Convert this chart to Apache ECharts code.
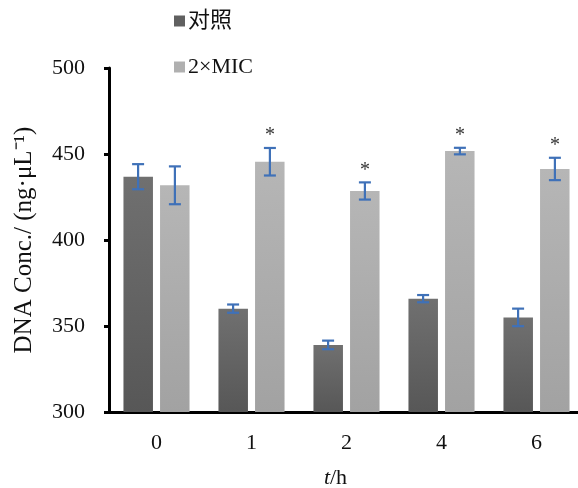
<!DOCTYPE html>
<html>
<head>
<meta charset="utf-8">
<style>html,body{margin:0;padding:0;background:#fff;}#c{width:578px;height:488px;}</style>
<script src="https://cdn.jsdelivr.net/npm/echarts@6/dist/echarts.min.js"></script>
</head>
<body>
<div id="c"></div>
<script>
var categories = ['0', '1', '2', '4', '6'];
var controlValues = [436.8, 360.1, 339.0, 365.9, 355.0];
var controlErrors = [7.3, 2.4, 2.5, 2.1, 5.1];
var micValues = [431.8, 445.5, 428.5, 451.7, 441.3];
var micErrors = [11.0, 8.0, 5.0, 1.9, 6.5];
var micSignificant = ['', '*', '*', '*', '*'];
var seriesNames = ['对照', '2×MIC'];
var yTicks = [300, 350, 400, 450, 500];

var chart = echarts.init(document.getElementById('c'));
var serif = 'Liberation Serif, Times New Roman, Noto Sans CJK SC, serif';
var BAR_W = 29.5, OFFSET = 18.4;

function errData(vals, errs, marks) {
  return vals.map(function (v, i) { return [i, v, errs[i], marks ? marks[i] : '']; });
}
function errRender(sign) {
  return function (params, api) {
    var i = api.value(0), v = api.value(1), e = api.value(2), mark = api.value(3);
    var c = api.coord([i, v]);
    var x = c[0] + sign * OFFSET;
    var yt = api.coord([i, v + e])[1];
    var yb = api.coord([i, v - e])[1];
    var st = { stroke: '#3f71b8', lineWidth: 2.2 };
    var children = [
      { type: 'line', shape: { x1: x, y1: yt, x2: x, y2: yb }, style: st },
      { type: 'line', shape: { x1: x - 6, y1: yt, x2: x + 6, y2: yt }, style: st },
      { type: 'line', shape: { x1: x - 6, y1: yb, x2: x + 6, y2: yb }, style: st }
    ];
    if (mark && mark !== '' && mark !== '-') {
      children.push({ type: 'text', style: { x: x, y: yt - 2, text: String(mark), textAlign: 'center', textVerticalAlign: 'bottom', font: '20px ' + serif, fill: '#333' } });
    }
    return { type: 'group', children: children };
  };
}

var darkGrad = new echarts.graphic.LinearGradient(0, 0, 0, 1, [{ offset: 0, color: '#707070' }, { offset: 1, color: '#575757' }]);
var lightGrad = new echarts.graphic.LinearGradient(0, 0, 0, 1, [{ offset: 0, color: '#b6b6b6' }, { offset: 1, color: '#a2a2a2' }]);

chart.setOption({
  animation: false,
  backgroundColor: '#fff',
  legend: {
    orient: 'vertical', left: 169, top: 5, itemGap: 24,
    itemWidth: 11, itemHeight: 11, icon: 'rect',
    textStyle: { fontFamily: serif, fontSize: 22, color: '#111', padding: [0, 0, 0, -2] },
    data: [
      { name: seriesNames[0], itemStyle: { color: '#606060' } },
      { name: seriesNames[1], itemStyle: { color: '#b0b0b0' } }
    ]
  },
  grid: { left: 109, top: 68, width: 475, height: 344, containLabel: false, outerBoundsMode: 'none' },
  xAxis: {
    type: 'category', data: categories,
    name: '{i|t}/h', nameLocation: 'middle', nameGap: 55,
    nameTextStyle: { fontFamily: serif, fontSize: 22, color: '#111', padding: [0, 22, 0, 0], rich: { i: { fontFamily: serif, fontSize: 22, fontStyle: 'italic', color: '#111' } } },
    axisLine: { lineStyle: { color: '#000', width: 3 } },
    axisTick: { length: 5, lineStyle: { color: '#000', width: 3 } },
    axisLabel: { margin: 20, fontFamily: serif, fontSize: 22, color: '#111' }
  },
  yAxis: {
    type: 'value', min: yTicks[0], max: yTicks[yTicks.length - 1], interval: 50,
    name: 'DNA Conc./ (ng·μL⁻¹)', nameLocation: 'middle', nameGap: 72,
    nameTextStyle: { fontFamily: serif, fontSize: 25, color: '#111' },
    axisLine: { show: true, lineStyle: { color: '#000', width: 3 } },
    axisTick: { show: true, length: 5, lineStyle: { color: '#000', width: 3 } },
    splitLine: { show: false },
    axisLabel: { margin: 24, fontFamily: serif, fontSize: 22, color: '#111' }
  },
  series: [
    { name: seriesNames[0], type: 'bar', data: controlValues, barWidth: BAR_W, barGap: '24%', itemStyle: { color: darkGrad } },
    { name: seriesNames[1], type: 'bar', data: micValues, barWidth: BAR_W, barGap: '24%', itemStyle: { color: lightGrad } },
    { type: 'custom', renderItem: errRender(-1), data: errData(controlValues, controlErrors), z: 10, silent: true },
    { type: 'custom', renderItem: errRender(1), data: errData(micValues, micErrors, micSignificant), z: 10, silent: true }
  ]
});
</script>
</body>
</html>
